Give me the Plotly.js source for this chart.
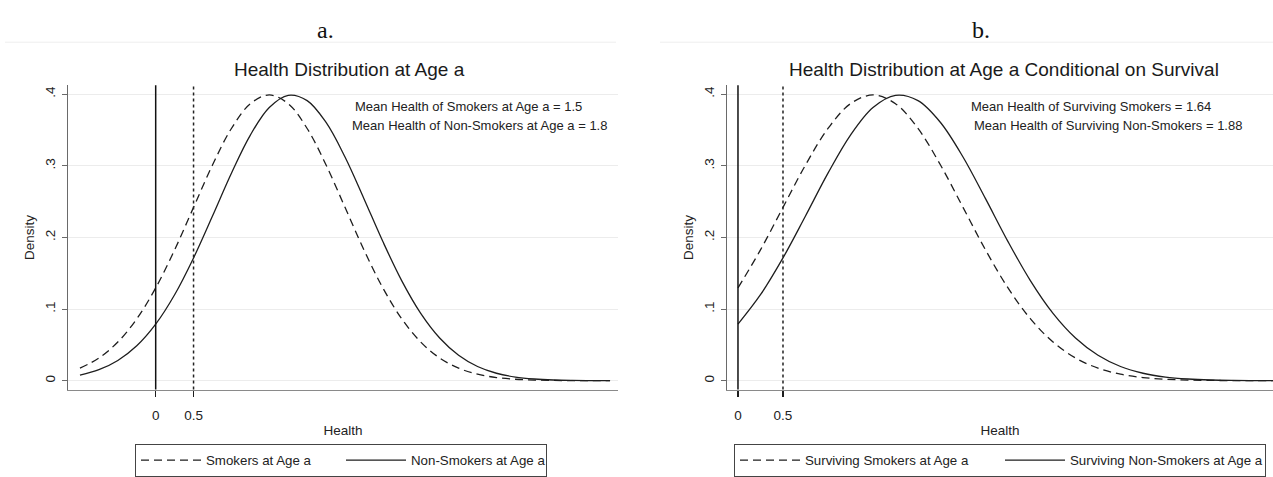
<!DOCTYPE html>
<html>
<head>
<meta charset="utf-8">
<script src="https://cdn.plot.ly/plotly-3.0.1.min.js"></script>
<style>
  html, body { margin: 0; padding: 0; background: #ffffff; }
  #chart { width: 1273px; height: 477px; }
</style>
</head>
<body>
<div id="chart"></div>
<script>
// Health grid and the density of each group at every grid point
const health = [-1, -0.75, -0.5, -0.25, 0, 0.25, 0.5, 0.75, 1, 1.25, 1.5, 1.75, 2, 2.25, 2.5,
                2.75, 3, 3.25, 3.5, 3.75, 4, 4.25, 4.5, 4.75, 5, 5.25, 5.5, 5.75, 6];
const densitySmokers = [0.0175, 0.0317, 0.0540, 0.0863, 0.1295, 0.1826, 0.2420, 0.3011, 0.3521, 0.3867,
                        0.3989, 0.3867, 0.3521, 0.3011, 0.2420, 0.1826, 0.1295, 0.0863, 0.0540, 0.0317,
                        0.0175, 0.0091, 0.0044, 0.0020, 0.0009, 0.0004, 0.0001, 0.0000, 0.0000];
const densityNonSmokers = [0.0079, 0.0154, 0.0283, 0.0488, 0.0790, 0.1200, 0.1714, 0.2299, 0.2897, 0.3429,
                           0.3814, 0.3984, 0.3910, 0.3605, 0.3123, 0.2541, 0.1942, 0.1394, 0.0940, 0.0596,
                           0.0355, 0.0198, 0.0104, 0.0051, 0.0024, 0.0010, 0.0004, 0.0002, 0.0001];

// Reference lines: survival threshold (solid) and the 0.5 marker (dotted)
const survivalCutoff = 0;
const healthMarker = 0.5;

const xTickVals = [0, 0.5];
const xTickText = ['0', '0.5'];
const yTickVals = [0, 0.1, 0.2, 0.3, 0.4];
const yTickText = ['0', '.1', '.2', '.3', '.4'];

const panelTags = ['a.', 'b.'];
const panelTitles = ['Health Distribution at Age a',
                     'Health Distribution at Age a Conditional on Survival'];
const meanLabelsA = ['Mean Health of Smokers at Age a = 1.5',
                     'Mean Health of Non-Smokers at Age a = 1.8'];
const meanLabelsB = ['Mean Health of Surviving Smokers = 1.64',
                     'Mean Health of Surviving Non-Smokers = 1.88'];
const seriesNamesA = ['Smokers at Age a', 'Non-Smokers at Age a'];
const seriesNamesB = ['Surviving Smokers at Age a', 'Surviving Non-Smokers at Age a'];

// Survivors: the part of each distribution at or above the cutoff
const keep = health.map(h => h >= survivalCutoff);
const healthSurv = health.filter((h, i) => keep[i]);
const densitySmokersSurv = densitySmokers.filter((d, i) => keep[i]);
const densityNonSmokersSurv = densityNonSmokers.filter((d, i) => keep[i]);

// ---- page geometry (pixels) ----
const W = 1273, H = 477;
const px = v => v / W;
const py = v => 1 - v / H;
const FONT = 'Liberation Sans, Arial, sans-serif';
const INK = '#1e1e1e';

const dashed = { color: INK, width: 1.3, dash: '8px,5px', shape: 'spline', smoothing: 1 };
const solid  = { color: INK, width: 1.3, shape: 'spline', smoothing: 1 };

const traces = [
  { x: health, y: densitySmokers, xaxis: 'x', yaxis: 'y', mode: 'lines', line: dashed,
    name: seriesNamesA[0], legend: 'legend', hoverinfo: 'skip' },
  { x: health, y: densityNonSmokers, xaxis: 'x', yaxis: 'y', mode: 'lines', line: solid,
    name: seriesNamesA[1], legend: 'legend', hoverinfo: 'skip' },
  { x: healthSurv, y: densitySmokersSurv, xaxis: 'x2', yaxis: 'y2', mode: 'lines', line: dashed,
    name: seriesNamesB[0], legend: 'legend2', hoverinfo: 'skip' },
  { x: healthSurv, y: densityNonSmokersSurv, xaxis: 'x2', yaxis: 'y2', mode: 'lines', line: solid,
    name: seriesNamesB[1], legend: 'legend2', hoverinfo: 'skip' }
];

function xAxis(domain, range) {
  return {
    domain: domain, range: range, showgrid: false, zeroline: false,
    showline: true, linecolor: '#8a8a8a', linewidth: 1,
    ticks: 'outside', ticklen: 6, tickcolor: INK, tickwidth: 1.2,
    tickvals: xTickVals, ticktext: xTickText, ticklabelstandoff: 7,
    tickfont: { family: FONT, size: 13.5, color: '#222' },
    title: { text: 'Health', font: { family: FONT, size: 13.5, color: '#222' }, standoff: 3 },
    fixedrange: true
  };
}
function yAxis(domain, anchor) {
  return {
    domain: domain, anchor: anchor, range: [-0.0123, 0.4123],
    showgrid: true, gridcolor: '#ececec', gridwidth: 1, zeroline: false,
    showline: true, linecolor: '#6a6a6a', linewidth: 1,
    ticks: 'outside', ticklen: 5, tickcolor: '#6a6a6a',
    tickvals: yTickVals, ticktext: yTickText, tickangle: -90, ticklabelstandoff: 2,
    tickfont: { family: FONT, size: 13.5, color: '#222' },
    title: { text: 'Density', font: { family: FONT, size: 13.5, color: '#222' }, standoff: 4 },
    fixedrange: true
  };
}

const yDom = [80 / H, 390 / H];
const xDomA = [px(68), px(618)];
const xDomB = [px(727), 1];

function refLines(xr, yr) {
  return [
    { type: 'line', xref: xr, yref: yr + ' domain', x0: survivalCutoff, x1: survivalCutoff, y0: 0, y1: 1,
      line: { color: '#111', width: 1.5 } },
    { type: 'line', xref: xr, yref: yr + ' domain', x0: healthMarker, x1: healthMarker, y0: 0, y1: 1,
      line: { color: '#222', width: 1.5, dash: 'dot' } }
  ];
}

const legendBase = {
  orientation: 'h', y: py(453), xanchor: 'left', yanchor: 'top',
  bordercolor: '#444', borderwidth: 1, bgcolor: '#ffffff',
  font: { family: FONT, size: 13.3, color: '#222' },
  itemwidth: 60, entrywidthmode: 'pixels',
  itemclick: false, itemdoubleclick: false
};

const layout = {
  width: W, height: H,
  margin: { l: 0, r: 0, t: 0, b: 0, pad: 0 },
  paper_bgcolor: '#ffffff', plot_bgcolor: '#ffffff',
  showlegend: true,
  xaxis: Object.assign(xAxis(xDomA, [-1.158, 6.105]), { anchor: 'y' }),
  yaxis: yAxis(yDom, 'x'),
  xaxis2: Object.assign(xAxis(xDomB, [-0.122, 5.944]), { anchor: 'y2' }),
  yaxis2: yAxis(yDom, 'x2'),
  legend: Object.assign({}, legendBase, { x: px(135), entrywidth: 130 }),
  legend2: Object.assign({}, legendBase, { x: px(734), entrywidth: 190 }),
  shapes: [
    // faint frame lines across the top of each graph region
    { type: 'line', xref: 'paper', yref: 'paper', x0: px(5), x1: px(616), y0: py(43), y1: py(43),
      line: { color: '#eeeeee', width: 1 } },
    { type: 'line', xref: 'paper', yref: 'paper', x0: px(660), x1: 1, y0: py(43), y1: py(43),
      line: { color: '#eeeeee', width: 1 } }
  ].concat(refLines('x', 'y'), refLines('x2', 'y2')),
  annotations: [
    { text: panelTags[0], xref: 'paper', yref: 'paper', x: px(326), y: py(31), showarrow: false,
      xanchor: 'center', yanchor: 'middle', font: { family: 'Liberation Serif, Times New Roman, serif', size: 24, color: '#111' } },
    { text: panelTags[1], xref: 'paper', yref: 'paper', x: px(981), y: py(31), showarrow: false,
      xanchor: 'center', yanchor: 'middle', font: { family: 'Liberation Serif, Times New Roman, serif', size: 24, color: '#111' } },
    { text: panelTitles[0], xref: 'paper', yref: 'paper', x: px(349), y: py(71), showarrow: false,
      xanchor: 'center', yanchor: 'middle', font: { family: FONT, size: 19, color: '#1a1a1a' } },
    { text: panelTitles[1], xref: 'paper', yref: 'paper', x: px(1004), y: py(71), showarrow: false,
      xanchor: 'center', yanchor: 'middle', font: { family: FONT, size: 19, color: '#1a1a1a' } },
    { text: meanLabelsA[0], xref: 'paper', yref: 'paper', x: px(353), y: py(109), showarrow: false,
      xanchor: 'left', yanchor: 'middle', font: { family: FONT, size: 13, color: '#222' } },
    { text: meanLabelsA[1], xref: 'paper', yref: 'paper', x: px(350), y: py(128), showarrow: false,
      xanchor: 'left', yanchor: 'middle', font: { family: FONT, size: 13, color: '#222' } },
    { text: meanLabelsB[0], xref: 'paper', yref: 'paper', x: px(969), y: py(109), showarrow: false,
      xanchor: 'left', yanchor: 'middle', font: { family: FONT, size: 13, color: '#222' } },
    { text: meanLabelsB[1], xref: 'paper', yref: 'paper', x: px(972), y: py(128), showarrow: false,
      xanchor: 'left', yanchor: 'middle', font: { family: FONT, size: 13, color: '#222' } }
  ]
};

Plotly.newPlot('chart', traces, layout, { displayModeBar: false, staticPlot: true });
</script>
</body>
</html>
